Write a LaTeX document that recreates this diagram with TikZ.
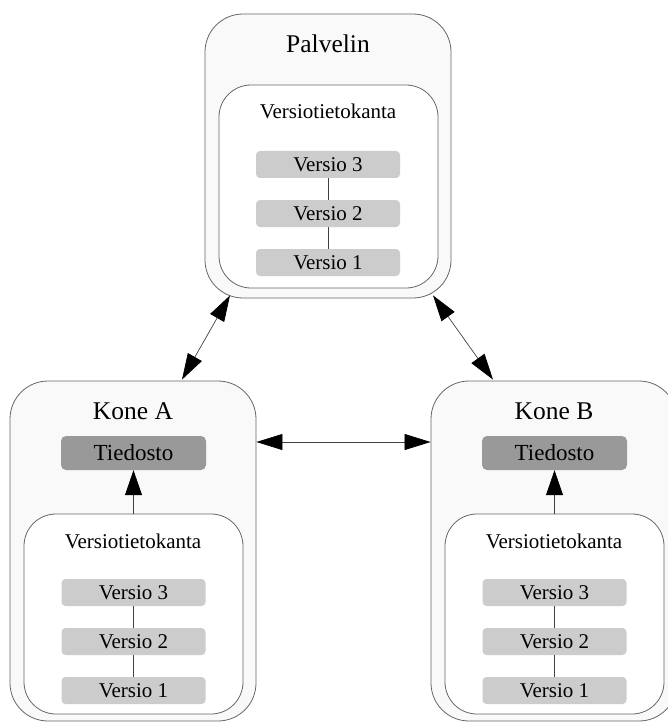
\documentclass[tikz,border=0pt]{standalone}
\usepackage{fontspec}
\setmainfont{Liberation Serif}
\usetikzlibrary{arrows.meta,calc}
\begin{document}
\begin{tikzpicture}[x=1pt,y=-1pt,
  outerbox/.style={draw=black!60,line width=0.8pt,fill=black!2.5,rounded corners=38pt,inner sep=0pt},
  innerbox/.style={draw=black!60,line width=0.8pt,fill=white,rounded corners=32pt,inner sep=0pt},
  versbox/.style={fill=black!20,rounded corners=4pt,minimum width=144pt,minimum height=27pt,inner sep=0pt,font=\fontsize{21}{24}\selectfont},
  filebox/.style={fill=black!40,rounded corners=5pt,minimum width=145pt,minimum height=34pt,inner sep=0pt,font=\fontsize{23}{26}\selectfont},
  titletext/.style={font=\fontsize{25.5}{29}\selectfont,inner sep=0pt},
  dbtext/.style={font=\fontsize{21}{24}\selectfont,inner sep=0pt},
  link/.style={draw=black!75,line width=0.7pt},
  bi/.style={link,{Triangle[length=26pt,width=16pt,black]}-{Triangle[length=26pt,width=16pt,black]}},
  uni/.style={link,-{Triangle[length=25pt,width=17pt,black]}}
]
\useasboundingbox (0,0) rectangle (667,722);
% Palvelin
\node[outerbox,minimum width=246pt,minimum height=284pt] (palv) at (328,156) {};
\node[titletext] (palvt) at (328,44) {Palvelin};
\node[innerbox,minimum width=219pt,minimum height=203pt] (palvdb) at (328.5,186.5) {};
\node[dbtext] (palvdbt) at (328,111) {Versiotietokanta};
\node[versbox] (p3) at (328,164.5) {Versio 3};
\node[versbox] (p2) at (328,213.5) {Versio 2};
\node[versbox] (p1) at (328,262.5) {Versio 1};
\draw[link] (p3.south) -- (p2.north);
\draw[link] (p2.south) -- (p1.north);
% Kone A
\node[outerbox,minimum width=246pt,minimum height=340pt] (koneA) at (133,551) {};
\node[titletext] (koneAt) at (133,411) {Kone A};
\node[filebox] (tiedA) at (133.5,453) {Tiedosto};
\node[innerbox,minimum width=219pt,minimum height=200pt] (dbA) at (133.5,614) {};
\node[dbtext] (dbAt) at (133,541) {Versiotietokanta};
\node[versbox] (a3) at (133.5,592.5) {Versio 3};
\node[versbox] (a2) at (133.5,641.5) {Versio 2};
\node[versbox] (a1) at (133.5,690.5) {Versio 1};
\draw[link] (a3.south) -- (a2.north);
\draw[link] (a2.south) -- (a1.north);
\draw[uni] (dbA.north) -- (tiedA.south);
% Kone B
\node[outerbox,minimum width=246pt,minimum height=340pt] (koneB) at (554,551) {};
\node[titletext] (koneBt) at (554,411) {Kone B};
\node[filebox] (tiedB) at (554.5,453) {Tiedosto};
\node[innerbox,minimum width=219pt,minimum height=200pt] (dbB) at (554.5,614) {};
\node[dbtext] (dbBt) at (554,541) {Versiotietokanta};
\node[versbox] (b3) at (554.5,592.5) {Versio 3};
\node[versbox] (b2) at (554.5,641.5) {Versio 2};
\node[versbox] (b1) at (554.5,690.5) {Versio 1};
\draw[link] (b3.south) -- (b2.north);
\draw[link] (b2.south) -- (b1.north);
\draw[uni] (dbB.north) -- (tiedB.south);
% connectors between machines
\draw[bi] ([xshift=-98pt,yshift=3pt]palv.south) -- ([xshift=49pt,yshift=1pt]koneA.north);
\draw[bi] ([xshift=105pt,yshift=3pt]palv.south) -- ([xshift=-61pt,yshift=1pt]koneB.north);
\draw[bi] ([yshift=109pt]koneA.east) -- ([yshift=109pt]koneB.west);
\end{tikzpicture}
\end{document}
